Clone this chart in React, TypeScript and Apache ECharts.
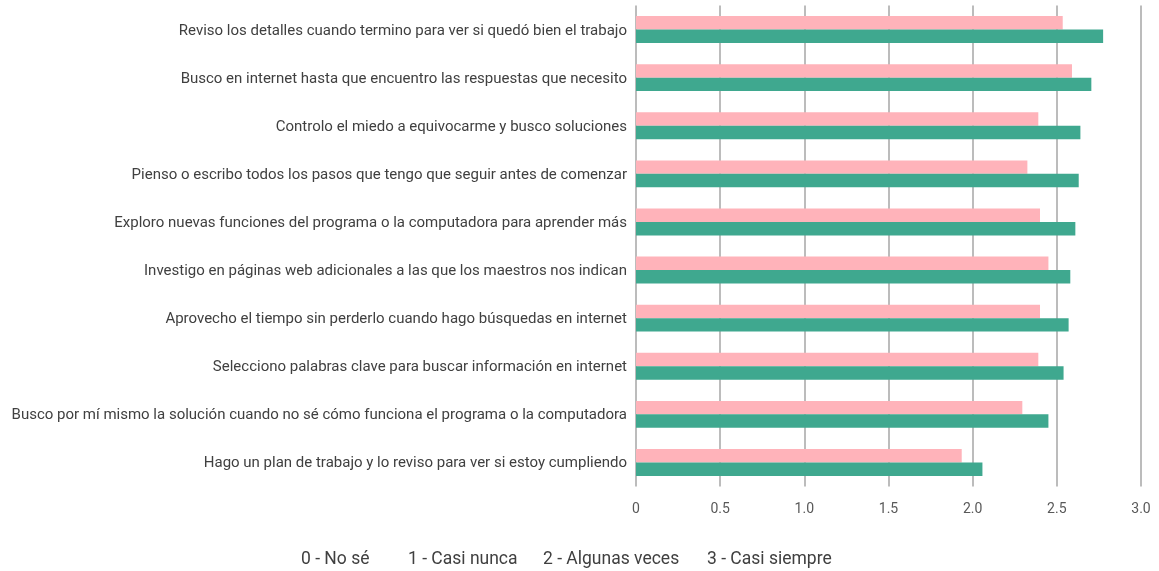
import React, { useEffect, useRef } from "react";
import * as echarts from "echarts";

const categories = [
  "Reviso los detalles cuando termino para ver si quedó bien el trabajo",
  "Busco en internet hasta que encuentro las respuestas que necesito",
  "Controlo el miedo a equivocarme y busco soluciones",
  "Pienso o escribo todos los pasos que tengo que seguir antes de comenzar",
  "Exploro nuevas funciones del programa o la computadora para aprender más",
  "Investigo en páginas web adicionales a las que los maestros nos indican",
  "Aprovecho el tiempo sin perderlo cuando hago búsquedas en internet",
  "Selecciono palabras clave para buscar información en internet",
  "Busco por mí mismo la solución cuando no sé cómo funciona el programa o la computadora",
  "Hago un plan de trabajo y lo reviso para ver si estoy cumpliendo",
];

const pinkValues = [2.535, 2.59, 2.39, 2.325, 2.4, 2.45, 2.4, 2.39, 2.295, 1.935];
const greenValues = [2.775, 2.705, 2.64, 2.63, 2.61, 2.58, 2.57, 2.54, 2.45, 2.058];

const legendLabels = ["0 - No sé", "1 - Casi nunca", "2 - Algunas veces", "3 - Casi siempre"];
const legendX = [301, 408, 543, 707];

const FONT = "Roboto";

export default function App() {
  const ref = useRef<HTMLDivElement>(null);
  useEffect(() => {
    if (!ref.current) return;
    const chart = echarts.init(ref.current, undefined, { renderer: "svg" });
    chart.setOption({
      animation: false,
      grid: { left: 636, right: 18, top: 5.5, bottom: 84.5, containLabel: false },
      xAxis: {
        type: "value",
        min: 0,
        max: 3,
        interval: 0.5,
        axisLine: { show: false },
        axisTick: { show: false },
        splitLine: { show: true, lineStyle: { color: "#a6a6a6", width: 1.5 } },
        axisLabel: {
          color: "#595959",
          fontFamily: FONT,
          fontSize: 14,
          margin: 14,
          formatter: (v: number) => (v === 0 ? "0" : v.toFixed(1)),
        },
      },
      yAxis: {
        type: "category",
        data: categories,
        inverse: true,
        axisLine: { show: false },
        axisTick: { show: false },
        splitLine: { show: false },
        axisLabel: {
          color: "#404040",
          fontFamily: FONT,
          fontSize: 15,
          margin: 9,
        },
      },
      series: [
        {
          type: "bar",
          data: pinkValues,
          itemStyle: { color: "#ffb3ba" },
          barGap: "0%",
          barCategoryGap: "44%",
        },
        {
          type: "bar",
          data: greenValues,
          itemStyle: { color: "#3fa88f" },
          barGap: "0%",
          barCategoryGap: "44%",
        },
      ],
      graphic: legendLabels.map((t, i) => ({
        type: "text",
        x: legendX[i],
        y: 558,
        style: {
          text: t,
          fill: "#404040",
          font: `17.5px ${FONT}`,
          textVerticalAlign: "middle",
        },
      })),
    });
    return () => chart.dispose();
  }, []);
  return (
    <div
      ref={ref}
      style={{ position: "fixed", left: 0, top: 0, width: 1159, height: 571 }}
    />
  );
}
